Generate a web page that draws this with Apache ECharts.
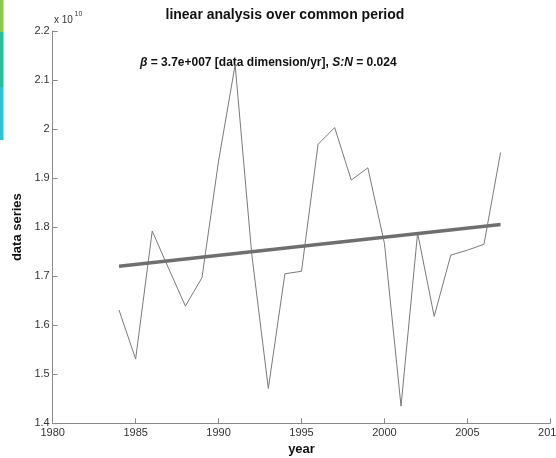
<!DOCTYPE html>
<html>
<head>
<meta charset="utf-8">
<script src="https://cdn.jsdelivr.net/npm/echarts@6/dist/echarts.min.js"></script>
<style>
  html, body { margin: 0; padding: 0; background: #fff; overflow: hidden; }
  #chart { width: 556px; height: 458px; }
</style>
</head>
<body>
<div id="chart"></div>
<script>
// Annual data series and its fitted linear trend
var years = [1984, 1985, 1986, 1987, 1988, 1989, 1990, 1991, 1992, 1993, 1994, 1995,
             1996, 1997, 1998, 1999, 2000, 2001, 2002, 2003, 2004, 2005, 2006, 2007];
var values = [1.631e10, 1.531e10, 1.792e10, 1.715e10, 1.639e10, 1.697e10, 1.935e10, 2.131e10,
              1.745e10, 1.471e10, 1.705e10, 1.710e10, 1.969e10, 2.003e10, 1.896e10, 1.921e10,
              1.767e10, 1.435e10, 1.788e10, 1.618e10, 1.743e10, 1.753e10, 1.765e10, 1.952e10];

var BETA = 3.7e7;          // trend slope, data units per year
var SNR = 0.024;           // signal-to-noise ratio of the trend
var SCALE_EXP = 10;        // y axis labels are shown in units of 10^10

var xTicks = [1980, 1985, 1990, 1995, 2000, 2005, 2010];
var yTicks = [1.4e10, 1.5e10, 1.6e10, 1.7e10, 1.8e10, 1.9e10, 2.0e10, 2.1e10, 2.2e10];

// Trend line passes through the mean point with slope BETA
var n = years.length;
var meanYear = years.reduce(function (a, b) { return a + b; }, 0) / n;
var meanVal = values.reduce(function (a, b) { return a + b; }, 0) / n;
function trendAt(y) { return meanVal + BETA * (y - meanYear); }
var trend = [[years[0], trendAt(years[0])], [years[n - 1], trendAt(years[n - 1])]];

var series = years.map(function (y, i) { return [y, values[i]]; });

var FONT = 'Liberation Sans, Arial, sans-serif';
var AXIS_GRAY = '#8a8a8a';

var chart = echarts.init(document.getElementById('chart'), null, { renderer: 'canvas' });

var gridLeft = 52.7, gridRight = 5.7, gridTop = 31, gridBottom = 34.7;

chart.setOption({
  animation: false,
  backgroundColor: '#ffffff',
  grid: {
    left: gridLeft, right: gridRight, top: gridTop, bottom: gridBottom,
    containLabel: false, outerBoundsMode: 'none'
  },
  xAxis: {
    type: 'value',
    min: xTicks[0],
    max: xTicks[xTicks.length - 1],
    interval: 5,
    name: 'year',
    nameLocation: 'middle',
    nameGap: 18,
    nameTextStyle: { fontFamily: FONT, fontSize: 13, fontWeight: 'bold', color: '#111' },
    axisLine: { show: true, lineStyle: { color: AXIS_GRAY, width: 1 } },
    axisTick: { show: true, inside: true, length: 5, lineStyle: { color: AXIS_GRAY } },
    axisLabel: {
      fontFamily: FONT, fontSize: 11, color: '#333', margin: 4,
      formatter: function (v) { return String(v); }
    },
    splitLine: { show: false }
  },
  yAxis: {
    type: 'value',
    min: yTicks[0],
    max: yTicks[yTicks.length - 1],
    interval: 1e9,
    name: 'data series',
    nameLocation: 'middle',
    nameGap: 23,
    nameTextStyle: { fontFamily: FONT, fontSize: 13, fontWeight: 'bold', color: '#111' },
    axisLine: { show: true, lineStyle: { color: AXIS_GRAY, width: 1 } },
    axisTick: { show: true, inside: true, length: 5, lineStyle: { color: AXIS_GRAY } },
    axisLabel: {
      fontFamily: FONT, fontSize: 11, color: '#333', margin: 3,
      formatter: function (v) { return String(Math.round(v / Math.pow(10, SCALE_EXP - 1)) / 10); }
    },
    splitLine: { show: false }
  },
  series: [
    {
      type: 'line',
      data: series,
      symbol: 'none',
      lineStyle: { color: '#7a7a7a', width: 1 },
      z: 3
    },
    {
      type: 'line',
      data: trend,
      symbol: 'none',
      lineStyle: { color: '#6f6f6f', width: 3.5 },
      z: 4
    }
  ],
  graphic: [
    // coloured strip along the upper left edge
    { type: 'rect', left: 0, top: 0, shape: { width: 3.5, height: 32 }, style: { fill: '#8cc84b' } },
    { type: 'rect', left: 0, top: 32, shape: { width: 3.5, height: 55 }, style: { fill: '#26bf9a' } },
    { type: 'rect', left: 0, top: 87, shape: { width: 3.5, height: 53 }, style: { fill: '#2cc3d3' } },
    {
      type: 'text', left: 165.5, top: 8,
      style: { text: 'linear analysis over common period', font: 'bold 14px ' + FONT, fill: '#111' }
    },
    {
      type: 'text', left: 140, top: 57,
      style: {
        text: '{i|β} = 3.7e+007 [data dimension/yr], {i|S:N} = ' + SNR,
        font: 'bold 12px ' + FONT, fill: '#111',
        rich: { i: { fontStyle: 'italic', fontWeight: 'bold', fontSize: 12, fontFamily: FONT, fill: '#111' } }
      }
    },
    {
      type: 'text', left: 54, top: 15,
      style: { text: 'x 10', font: '10px ' + FONT, fill: '#333' }
    },
    {
      type: 'text', left: 74.5, top: 11,
      style: { text: String(SCALE_EXP), font: '7px ' + FONT, fill: '#333' }
    }
  ]
});
</script>
</body>
</html>
